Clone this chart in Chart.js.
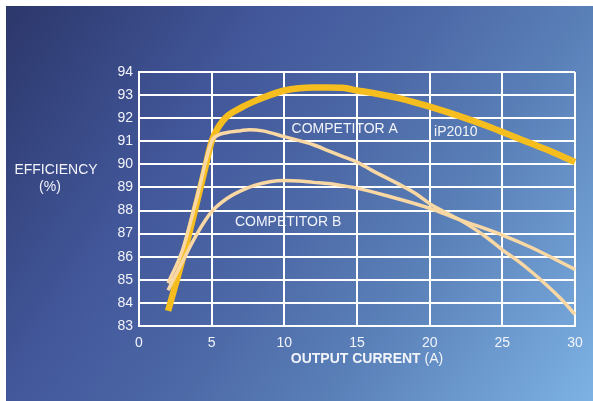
<!DOCTYPE html>
<html>
<head>
<meta charset="utf-8">
<script src="https://cdn.jsdelivr.net/npm/chart.js@4/dist/chart.umd.min.js"></script>
<style>
  html, body { margin: 0; padding: 0; background: #ffffff; }
  #wrap { width: 593px; height: 401px; position: relative; }
</style>
</head>
<body>
<div id="wrap"><canvas id="c" width="593" height="401"></canvas></div>
<script>
// Output current (A) sample points and measured efficiency (%) per converter
const ip2010Current = [2, 3, 4, 4.5, 5, 5.5, 6, 7, 8, 9, 10, 11, 12, 13, 14, 15, 16, 18, 20, 22, 24, 25, 27, 28, 30];
const ip2010Eff     = [83.65, 85.9, 88.4, 89.7, 91.0, 91.65, 92.05, 92.45, 92.75, 93.0, 93.2, 93.3, 93.33, 93.33, 93.32, 93.2, 93.1, 92.85, 92.5, 92.1, 91.65, 91.4, 90.9, 90.65, 90.1];

const compACurrent = [2, 3, 4, 5, 5.5, 6, 7, 7.6, 8.5, 10, 12, 13, 14, 15, 16, 18, 19, 20, 21, 22, 23, 24, 25, 26, 27, 28, 29, 30];
const compAEff     = [84.85, 86.3, 88.6, 91.0, 91.28, 91.37, 91.46, 91.5, 91.45, 91.2, 90.85, 90.6, 90.35, 90.1, 89.75, 89.1, 88.75, 88.3, 87.95, 87.62, 87.24, 86.8, 86.3, 85.85, 85.35, 84.8, 84.2, 83.5];

const compBCurrent = [2, 3, 4, 5, 6, 7, 8, 9, 10, 11, 12, 13, 14, 15, 17, 20, 22, 25, 27, 30];
const compBEff     = [84.55, 85.8, 87.0, 87.95, 88.5, 88.85, 89.1, 89.25, 89.3, 89.28, 89.22, 89.17, 89.08, 88.97, 88.65, 88.1, 87.62, 86.94, 86.4, 85.45];

// Axis ranges and tick labels
const xTicks = [0, 5, 10, 15, 20, 25, 30];
const yTicks = [83, 84, 85, 86, 87, 88, 89, 90, 91, 92, 93, 94];

// Series names written beside the curves, with their anchor (current, efficiency)
const seriesNames = ['COMPETITOR A', 'iP2010', 'COMPETITOR B'];
const nameAnchors = [[10.5, 91.53], [20.3, 91.4], [6.6, 87.5]];

const toPoints = (xs, ys) => xs.map((x, i) => ({ x: x, y: ys[i] }));

const FONT = '"Liberation Sans", Arial, Helvetica, sans-serif';
const TEXT = '#f2f4fa';

const backdrop = {
  id: 'backdrop',
  beforeDraw(chart) {
    const ctx = chart.ctx;
    const w = chart.width, h = chart.height;
    ctx.save();
    ctx.fillStyle = '#ffffff';
    ctx.fillRect(0, 0, w, h);
    const g = ctx.createLinearGradient(6, 6, w, h);
    g.addColorStop(0, '#2c376b');
    g.addColorStop(0.31, '#42579a');
    g.addColorStop(0.5, '#4c68a6');
    g.addColorStop(0.69, '#5a80b8');
    g.addColorStop(1, '#7db2e4');
    ctx.fillStyle = g;
    ctx.fillRect(6, 6, w - 6, h - 6);
    ctx.restore();
  }
};

const labels = {
  id: 'labels',
  afterDraw(chart) {
    const ctx = chart.ctx;
    const xs = chart.scales.x, ys = chart.scales.y;
    const area = chart.chartArea;
    ctx.save();
    ctx.fillStyle = TEXT;
    ctx.textBaseline = 'middle';
    ctx.font = '14px ' + FONT;
    ctx.textAlign = 'left';
    seriesNames.forEach((name, i) => {
      const [cx, cy] = nameAnchors[i];
      ctx.fillText(name, xs.getPixelForValue(cx), ys.getPixelForValue(cy));
    });

    // horizontal y-axis title on the left
    ctx.textAlign = 'center';
    ctx.fillText('EFFICIENCY', 56, ys.getPixelForValue(89.75));
    ctx.fillText('(%)', 50, ys.getPixelForValue(89.03));

    // x-axis title: bold quantity, regular unit
    const boldPart = 'OUTPUT CURRENT';
    const unitPart = ' (A)';
    ctx.font = 'bold 14px ' + FONT;
    const wb = ctx.measureText(boldPart).width;
    ctx.font = '14px ' + FONT;
    const wu = ctx.measureText(unitPart).width;
    const start = (area.left + area.right) / 2 + 10 - (wb + wu) / 2;
    const ty = area.bottom + 33;
    ctx.textAlign = 'left';
    ctx.font = 'bold 14px ' + FONT;
    ctx.fillText(boldPart, start, ty);
    ctx.font = '14px ' + FONT;
    ctx.fillText(unitPart, start + wb, ty);
    ctx.restore();
  }
};

const peach = '#f9d8a4';
const gold = '#f5bd1e';

new Chart(document.getElementById('c'), {
  type: 'line',
  data: {
    datasets: [
      { label: 'COMPETITOR A', data: toPoints(compACurrent, compAEff), borderColor: peach, borderWidth: 3.5, clip: 6 },
      { label: 'COMPETITOR B', data: toPoints(compBCurrent, compBEff), borderColor: peach, borderWidth: 3.5, clip: 6 },
      { label: 'iP2010', data: toPoints(ip2010Current, ip2010Eff), borderColor: gold, borderWidth: 6.5, clip: 6 }
    ]
  },
  options: {
    responsive: false,
    animation: false,
    devicePixelRatio: 1,
    layout: { padding: { left: 0, top: 72, right: 18, bottom: 0 } },
    elements: {
      point: { radius: 0, hoverRadius: 0 },
      line: { cubicInterpolationMode: 'monotone', borderCapStyle: 'butt', borderJoinStyle: 'round', fill: false }
    },
    plugins: { legend: { display: false }, tooltip: { enabled: false } },
    scales: {
      x: {
        type: 'linear',
        min: xTicks[0],
        max: xTicks[xTicks.length - 1],
        afterBuildTicks(scale) { scale.ticks = xTicks.map(v => ({ value: v })); },
        afterFit(scale) { scale.height = 75; },
        grid: { color: '#ffffff', lineWidth: 2, drawTicks: false },
        border: { color: '#ffffff', width: 2 },
        ticks: { color: TEXT, font: { family: FONT, size: 14 }, padding: 9, maxRotation: 0 }
      },
      y: {
        type: 'linear',
        min: yTicks[0],
        max: yTicks[yTicks.length - 1],
        afterBuildTicks(scale) { scale.ticks = yTicks.map(v => ({ value: v })); },
        afterFit(scale) { scale.width = 139; },
        grid: { color: '#ffffff', lineWidth: 2, drawTicks: false },
        border: { color: '#ffffff', width: 2 },
        ticks: { color: TEXT, font: { family: FONT, size: 14 }, padding: 6 }
      }
    }
  },
  plugins: [backdrop, labels]
});
</script>
</body>
</html>
